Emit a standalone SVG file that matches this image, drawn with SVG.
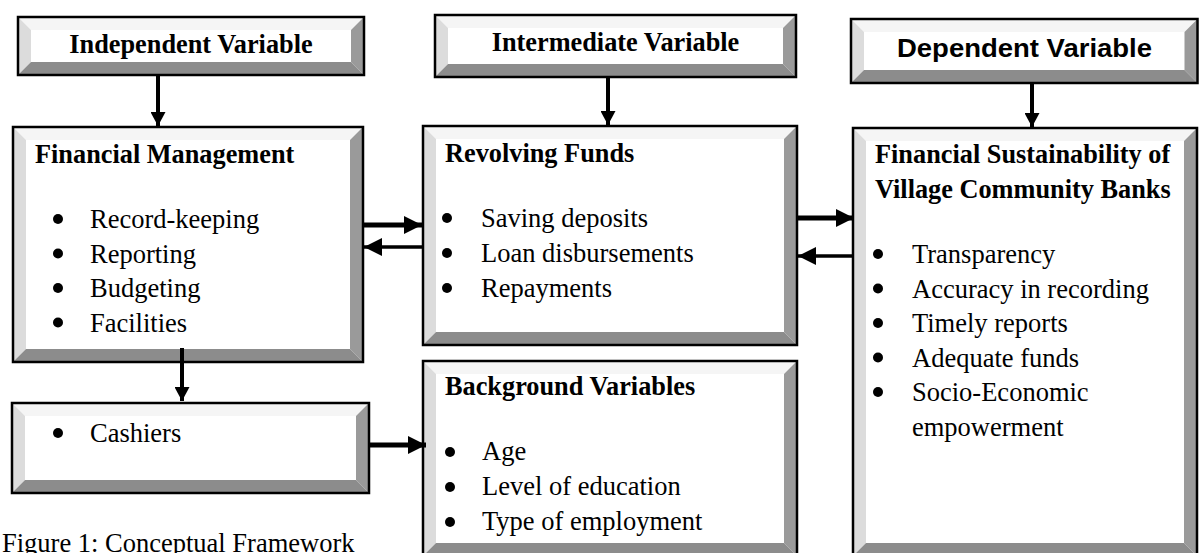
<svg xmlns="http://www.w3.org/2000/svg" width="1199" height="553" viewBox="0 0 1199 553">
<style>
.bt{fill:#f5f5f5}.bl{fill:#dcdcdc}.br{fill:#9a9a9a}.bb{fill:#8c8c8c}.face{fill:#fff}
.frame{fill:none;stroke:#000;stroke-width:2.5}
.h{font-family:"Liberation Serif","Times New Roman",serif;font-size:26.3px;font-weight:bold;fill:#000}
.t{font-family:"Liberation Serif","Times New Roman",serif;font-size:26.5px;fill:#000}
.s{font-family:"Liberation Sans",Arial,sans-serif;font-size:26px;font-weight:bold;fill:#000}
.ln{stroke:#000;fill:none}
</style>
<defs>
<marker id="ah" markerUnits="userSpaceOnUse" markerWidth="18" markerHeight="18" refX="16" refY="8" orient="auto" viewBox="0 0 16 16"><path d="M0,0 L16,8 L0,16 Z" fill="#000"/></marker>
<marker id="ahs" markerUnits="userSpaceOnUse" markerWidth="15" markerHeight="15" refX="13" refY="7" orient="auto" viewBox="0 0 13 14"><path d="M0,0 L13,7 L0,14 Z" fill="#000"/></marker>
</defs>
<rect width="1199" height="553" fill="#fff"/>

<g id="independent">
<rect class="face" x="18" y="17" width="346" height="58"/>
<polygon class="bt" points="18,17 364,17 351,30 31,30"/>
<polygon class="bl" points="18,17 31,30 31,62 18,75"/>
<polygon class="br" points="364,17 364,75 351,62 351,30"/>
<polygon class="bb" points="18,75 364,75 351,62 31,62"/>
<rect class="frame" x="18" y="17" width="346" height="58"/>
<text class="h" x="191" y="53" text-anchor="middle">Independent Variable</text>
</g>

<g id="intermediate">
<rect class="face" x="435" y="15" width="361" height="62"/>
<polygon class="bt" points="435,15 796,15 783,28 448,28"/>
<polygon class="bl" points="435,15 448,28 448,64 435,77"/>
<polygon class="br" points="796,15 796,77 783,64 783,28"/>
<polygon class="bb" points="435,77 796,77 783,64 448,64"/>
<rect class="frame" x="435" y="15" width="361" height="62"/>
<text class="h" x="615.5" y="51" text-anchor="middle">Intermediate Variable</text>
</g>

<g id="dependent">
<rect class="face" x="851" y="19" width="346.5" height="64"/>
<polygon class="bt" points="851,19 1197.5,19 1184.5,32 864,32"/>
<polygon class="bl" points="851,19 864,32 864,70 851,83"/>
<polygon class="br" points="1197.5,19 1197.5,83 1184.5,70 1184.5,32"/>
<polygon class="bb" points="851,83 1197.5,83 1184.5,70 864,70"/>
<rect class="frame" x="851" y="19" width="346.5" height="64"/>
<text class="s" x="1024.5" y="57" text-anchor="middle" textLength="255" lengthAdjust="spacingAndGlyphs">Dependent Variable</text>
</g>

<g id="financial-management">
<rect class="face" x="13" y="127" width="350" height="235"/>
<polygon class="bt" points="13,127 363,127 350,140 26,140"/>
<polygon class="bl" points="13,127 26,140 26,349 13,362"/>
<polygon class="br" points="363,127 363,362 350,349 350,140"/>
<polygon class="bb" points="13,362 363,362 350,349 26,349"/>
<rect class="frame" x="13" y="127" width="350" height="235"/>
<text class="h" x="35" y="163">Financial Management</text>
<circle cx="58" cy="219" r="5"/><text class="t" x="90" y="228">Record-keeping</text>
<circle cx="58" cy="253.5" r="5"/><text class="t" x="90" y="262.5">Reporting</text>
<circle cx="58" cy="288" r="5"/><text class="t" x="90" y="297">Budgeting</text>
<circle cx="58" cy="322.5" r="5"/><text class="t" x="90" y="331.5">Facilities</text>
</g>

<g id="revolving-funds">
<rect class="face" x="423" y="126" width="374" height="219"/>
<polygon class="bt" points="423,126 797,126 784,139 436,139"/>
<polygon class="bl" points="423,126 436,139 436,332 423,345"/>
<polygon class="br" points="797,126 797,345 784,332 784,139"/>
<polygon class="bb" points="423,345 797,345 784,332 436,332"/>
<rect class="frame" x="423" y="126" width="374" height="219"/>
<text class="h" x="445" y="162">Revolving Funds</text>
<circle cx="447" cy="218" r="5"/><text class="t" x="481" y="227">Saving deposits</text>
<circle cx="447" cy="253" r="5"/><text class="t" x="481" y="262">Loan disbursements</text>
<circle cx="447" cy="288" r="5"/><text class="t" x="481" y="297">Repayments</text>
</g>

<g id="financial-sustainability">
<rect class="face" x="853" y="128" width="344" height="428"/>
<polygon class="bt" points="853,128 1197,128 1184,141 866,141"/>
<polygon class="bl" points="853,128 866,141 866,543 853,556"/>
<polygon class="br" points="1197,128 1197,556 1184,543 1184,141"/>
<polygon class="bb" points="853,556 1197,556 1184,543 866,543"/>
<rect class="frame" x="853" y="128" width="344" height="428"/>
<text class="h" x="875" y="163">Financial Sustainability of</text>
<text class="h" x="875" y="198">Village Community Banks</text>
<circle cx="878" cy="254" r="5"/><text class="t" x="912" y="263">Transparency</text>
<circle cx="878" cy="288.5" r="5"/><text class="t" x="912" y="297.5">Accuracy in recording</text>
<circle cx="878" cy="323" r="5"/><text class="t" x="912" y="332">Timely reports</text>
<circle cx="878" cy="357.5" r="5"/><text class="t" x="912" y="366.5">Adequate funds</text>
<circle cx="878" cy="392" r="5"/><text class="t" x="912" y="401">Socio-Economic</text>
<text class="t" x="912" y="435.5">empowerment</text>
</g>

<g id="cashiers">
<rect class="face" x="12" y="403" width="357" height="90"/>
<polygon class="bt" points="12,403 369,403 356,416 25,416"/>
<polygon class="bl" points="12,403 25,416 25,480 12,493"/>
<polygon class="br" points="369,403 369,493 356,480 356,416"/>
<polygon class="bb" points="12,493 369,493 356,480 25,480"/>
<rect class="frame" x="12" y="403" width="357" height="90"/>
<circle cx="58" cy="433" r="5"/><text class="t" x="90" y="442">Cashiers</text>
</g>

<g id="background-variables">
<rect class="face" x="423" y="361" width="374" height="195"/>
<polygon class="bt" points="423,361 797,361 784,374 436,374"/>
<polygon class="bl" points="423,361 436,374 436,543 423,556"/>
<polygon class="br" points="797,361 797,556 784,543 784,374"/>
<polygon class="bb" points="423,556 797,556 784,543 436,543"/>
<rect class="frame" x="423" y="361" width="374" height="195"/>
<text class="h" x="445" y="395">Background Variables</text>
<circle cx="450" cy="452" r="5"/><text class="t" x="482" y="460">Age</text>
<circle cx="450" cy="487" r="5"/><text class="t" x="482" y="495">Level of education</text>
<circle cx="450" cy="522" r="5"/><text class="t" x="482" y="530">Type of employment</text>
</g>

<g id="connectors">
<line class="ln" x1="158" y1="75" x2="158" y2="126" stroke-width="4" marker-end="url(#ahs)"/>
<line class="ln" x1="608" y1="77" x2="608" y2="125" stroke-width="4" marker-end="url(#ahs)"/>
<line class="ln" x1="1032" y1="83" x2="1032" y2="127" stroke-width="4" marker-end="url(#ahs)"/>
<line class="ln" x1="182" y1="348" x2="182" y2="401" stroke-width="4" marker-end="url(#ahs)"/>
<line class="ln" x1="363" y1="225" x2="422" y2="225" stroke-width="5" marker-end="url(#ah)"/>
<line class="ln" x1="423" y1="247" x2="364" y2="247" stroke-width="3.5" marker-end="url(#ah)"/>
<line class="ln" x1="797" y1="218" x2="854" y2="218" stroke-width="5" marker-end="url(#ah)"/>
<line class="ln" x1="853" y1="256" x2="798" y2="256" stroke-width="3.5" marker-end="url(#ah)"/>
<line class="ln" x1="369" y1="445" x2="426" y2="445" stroke-width="5" marker-end="url(#ah)"/>
</g>

<text class="t" x="2" y="552">Figure 1: Conceptual Framework</text>
</svg>
